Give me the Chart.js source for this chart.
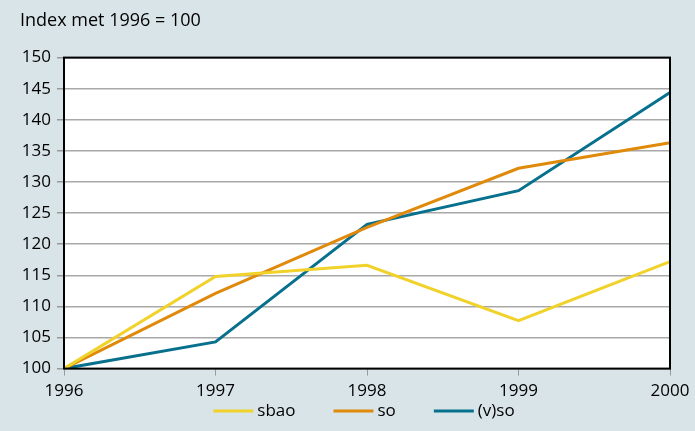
<!DOCTYPE html>
<html>
<head>
<meta charset="utf-8">
<script src="https://cdn.jsdelivr.net/npm/chart.js@4/dist/chart.umd.min.js"></script>
<style>
html,body{margin:0;padding:0;background:#d9e4e9;}
#wrap{width:695px;height:431px;position:relative;}
</style>
</head>
<body>
<div id="wrap"><canvas id="c" width="695" height="431"></canvas></div>
<script>
const years = ['1996','1997','1998','1999','2000'];
const sbao = [100, 114.8, 116.6, 107.7, 117.2];
const so = [100, 112.1, 122.7, 132.2, 136.3];
const vso = [100, 104.3, 123.2, 128.6, 144.4];
const yTicks = [100,105,110,115,120,125,130,135,140,145,150];
const titleText = 'Index met 1996 = 100';

const FONT = "'Open Sans', sans-serif";

const plotBg = {
  id:'plotBg',
  beforeDraw(chart){
    const {ctx, chartArea:a} = chart;
    ctx.save(); ctx.fillStyle='#ffffff';
    ctx.fillRect(a.left,a.top,a.right-a.left,a.bottom-a.top);
    ctx.restore();
  },
  afterDatasetsDraw(chart){
    const {ctx, chartArea:a} = chart;
    ctx.save(); ctx.strokeStyle='#000'; ctx.lineWidth=2;
    ctx.strokeRect(a.left,a.top,a.right-a.left,a.bottom-a.top);
    ctx.restore();
  }
};

// legend drawn below the x axis, centred under the plot area
const lineLegend = {
  id:'lineLegend',
  afterDraw(chart){
    const {ctx, chartArea:a} = chart;
    const lineLen = 40, textGap = 4, itemGap = 38;
    ctx.save();
    ctx.font = "17px " + FONT;
    ctx.textBaseline = 'middle';
    const items = chart.data.datasets.map(d=>({d, w: lineLen + textGap + ctx.measureText(d.label).width}));
    const total = items.reduce((s,it)=>s+it.w,0) + itemGap*(items.length-1);
    let x = (a.left + a.right)/2 - 3 - total/2;
    const y = 411;
    items.forEach(it=>{
      ctx.strokeStyle = it.d.borderColor; ctx.lineWidth = 3;
      ctx.beginPath(); ctx.moveTo(x, y); ctx.lineTo(x+lineLen, y); ctx.stroke();
      ctx.fillStyle = '#000';
      ctx.fillText(it.d.label, x+lineLen+textGap, y);
      x += it.w + itemGap;
    });
    ctx.restore();
  }
};

new Chart(document.getElementById('c'), {
  type:'line',
  data:{
    labels: years,
    datasets:[
      {label:'sbao', data:sbao, borderColor:'#f0d22a', backgroundColor:'#f0d22a', borderWidth:3, pointRadius:0, tension:0},
      {label:'so', data:so, borderColor:'#e08a0c', backgroundColor:'#e08a0c', borderWidth:3, pointRadius:0, tension:0},
      {label:'(v)so', data:vso, borderColor:'#07708d', backgroundColor:'#07708d', borderWidth:3, pointRadius:0, tension:0}
    ]
  },
  options:{
    responsive:false,
    animation:false,
    layout:{padding:{left:20,right:25,top:10,bottom:25}},
    plugins:{
      title:{display:true, text:titleText, align:'start', color:'#000', font:{family:FONT,size:18,weight:'normal'}, padding:{top:0,bottom:26}},
      legend:{display:false},
      tooltip:{enabled:false}
    },
    scales:{
      x:{
        type:'category', offset:false,
        grid:{drawOnChartArea:false, drawTicks:true, tickLength:7, color:'#999'},
        border:{display:false},
        ticks:{color:'#000', font:{family:FONT,size:17}, padding:5, maxRotation:0, autoSkip:false}
      },
      y:{
        min:100, max:150,
        afterBuildTicks(scale){ scale.ticks = yTicks.map(v=>({value:v})); },
        afterFit(scale){ scale.width = 44; },
        grid:{color:'#a8a8a8', lineWidth:1.5, tickLength:7, tickColor:'#999'},
        border:{display:false},
        ticks:{color:'#000', font:{family:FONT,size:17}, padding:6}
      }
    }
  },
  plugins:[plotBg, lineLegend]
});
</script>
</body>
</html>
